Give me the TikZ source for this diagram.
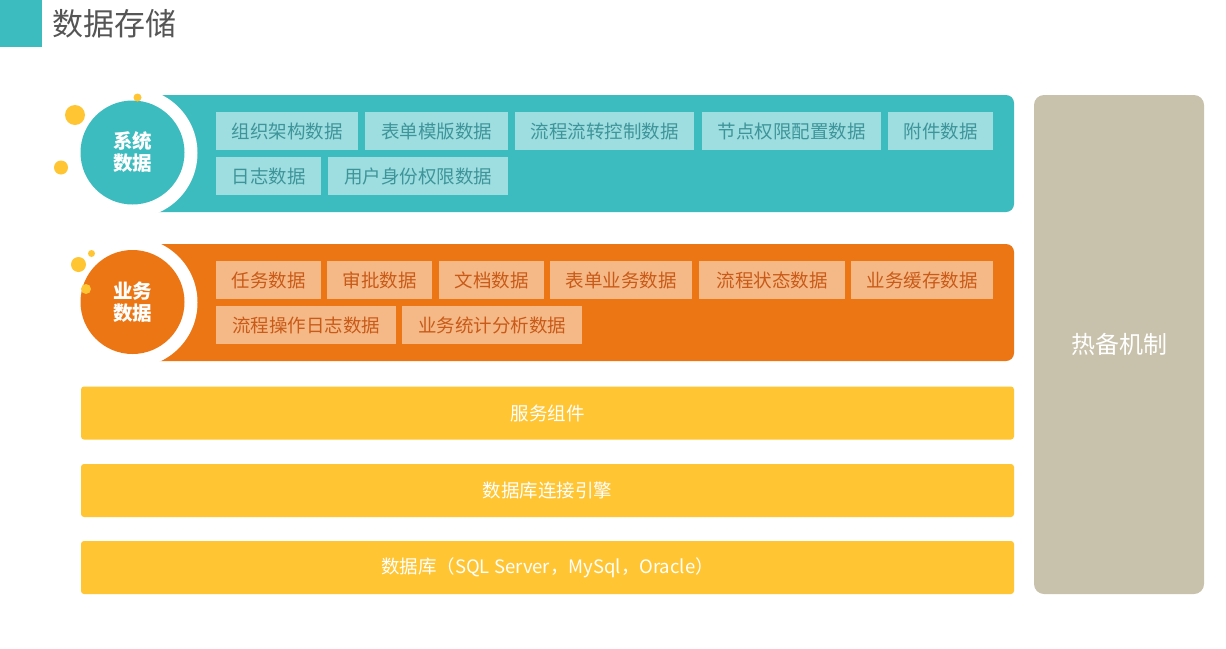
\documentclass[tikz,border=0pt]{standalone}
\usepackage{fontspec}
\setmainfont{Noto Sans CJK SC}
\definecolor{tealc}{HTML}{3CBCBF}
\definecolor{orangec}{HTML}{EC7614}
\definecolor{yellowc}{HTML}{FFC533}
\definecolor{grayc}{HTML}{C8C1AB}
\definecolor{tchipbg}{HTML}{9EDDE0}
\definecolor{tchiptx}{HTML}{3E9599}
\definecolor{ochipbg}{HTML}{F5B987}
\definecolor{ochiptx}{HTML}{C95A18}
\definecolor{titletx}{HTML}{555555}
\begin{document}
\begin{tikzpicture}[x=1pt,y=-1pt,
  chipbase/.style={inner sep=0pt, minimum height=38pt, anchor=north west, font=\fontsize{18.5}{20}\selectfont},
  tchip/.style={chipbase, fill=tchipbg, text=tchiptx},
  ochip/.style={chipbase, fill=ochipbg, text=ochiptx},
  hub/.style={circle, inner sep=0pt, minimum size=104pt, text=white, align=center, font=\fontsize{19.5}{22}\selectfont\bfseries},
  bar/.style={fill=yellowc, rounded corners=3pt, inner sep=0pt, minimum width=933pt, minimum height=53pt, text=white, font=\fontsize{18.5}{20}\selectfont},
  dot/.style={fill=yellowc}
]
\useasboundingbox (0,0) rectangle (1226,648);
\fill[white] (0,0) rectangle (1226,648);

% title
\fill[tealc] (0,0) rectangle (42,47);
\node[anchor=west, inner sep=0pt, text=titletx, font=\fontsize{31}{34}\selectfont] (title) at (52,24) {数据存储};

% system data panel
\fill[tealc, rounded corners=8pt] (133,95) rectangle (1014,212);
\fill[white] (132.5,153) circle (65);
\node[hub, fill=tealc] (sys) at (132.5,152.5) {系统\\数据};
\fill[dot] (75,115) circle (10);
\fill[dot] (137.5,97.5) circle (4);
\fill[dot] (61,167.5) circle (7);

\node[tchip, minimum width=142pt] (t1) at (216,112) {组织架构数据};
\node[tchip, minimum width=143pt] (t2) at (365,112) {表单模版数据};
\node[tchip, minimum width=179pt] (t3) at (515,112) {流程流转控制数据};
\node[tchip, minimum width=179pt] (t4) at (702,112) {节点权限配置数据};
\node[tchip, minimum width=105pt] (t5) at (888,112) {附件数据};
\node[tchip, minimum width=105pt] (t6) at (216,157) {日志数据};
\node[tchip, minimum width=180pt] (t7) at (328,157) {用户身份权限数据};

% business data panel
\fill[orangec, rounded corners=8pt] (133,244) rectangle (1014,361);
\fill[white] (132.5,302.5) circle (65);
\node[hub, fill=orangec] (biz) at (132.5,302) {业务\\数据};
\fill[dot] (78.5,264.5) circle (7.5);
\fill[dot] (91.5,253.5) circle (3.5);
\fill[dot] (86,289) circle (5);

\node[ochip, minimum width=105pt] (o1) at (216,261) {任务数据};
\node[ochip, minimum width=105pt] (o2) at (327,261) {审批数据};
\node[ochip, minimum width=105pt] (o3) at (439,261) {文档数据};
\node[ochip, minimum width=142pt] (o4) at (550,261) {表单业务数据};
\node[ochip, minimum width=146pt] (o5) at (699,261) {流程状态数据};
\node[ochip, minimum width=142pt] (o6) at (851,261) {业务缓存数据};
\node[ochip, minimum width=180pt] (o7) at (216,306) {流程操作日志数据};
\node[ochip, minimum width=180pt] (o8) at (402,306) {业务统计分析数据};

% bars
\node[bar] (b1) at (547.5,413) {服务组件};
\node[bar] (b2) at (547.5,490.5) {数据库连接引擎};
\node[bar] (b3) at (547.5,567.5) {数据库（SQL Server，MySql，Oracle）};

% hot standby
\node[fill=grayc, rounded corners=10pt, inner sep=0pt, minimum width=170pt, minimum height=499pt, text=white, font=\fontsize{24}{26}\selectfont] (hot) at (1119,344.5) {热备机制};
\end{tikzpicture}
\end{document}
